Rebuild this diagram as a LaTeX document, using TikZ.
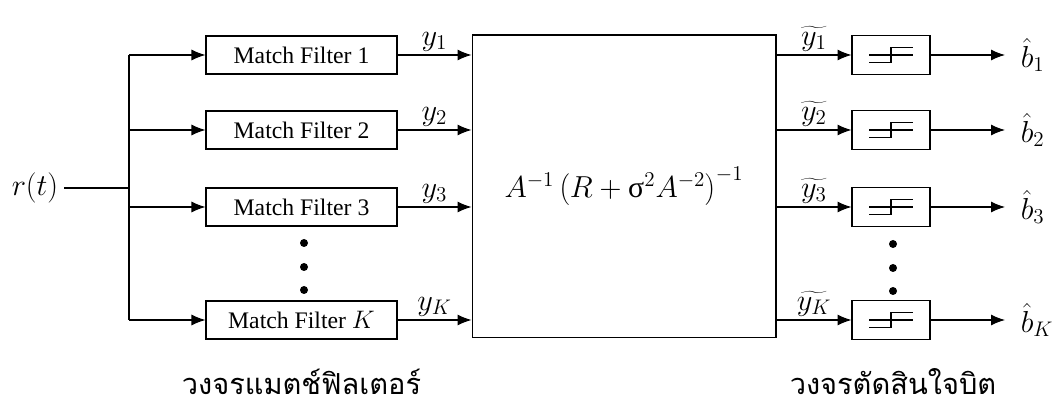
\documentclass[tikz,border=0pt]{standalone}
\usepackage{fontspec}
\setmainfont{Liberation Serif}
\newfontfamily\thaifont[Script=Thai]{Loma}
\usetikzlibrary{arrows.meta}
\begin{document}
\begin{tikzpicture}[x=0.02cm,y=-0.02cm]
	% Styles
	\tikzstyle{trait}=[line width=0.6pt]
	\tikzstyle{fleche}=[trait,-{Latex[length=2.8mm,width=2.2mm]}]
	\tikzstyle{filtre}=[draw,trait,minimum width=3.82cm,minimum height=0.76cm,inner sep=0pt,font=\fontsize{13.5}{16}\selectfont]
	\tikzstyle{decision}=[draw,trait,minimum width=1.56cm,minimum height=0.78cm,inner sep=0pt]
	\tikzstyle{matrice}=[draw,trait,minimum width=6.08cm,minimum height=6.06cm,inner sep=0pt,font=\fontsize{17}{21}\selectfont]
	\tikzstyle{etiquette}=[midway,above,inner sep=2pt,font=\fontsize{17}{20}\selectfont]
	\tikzstyle{sortie}=[anchor=west,inner sep=1pt,outer sep=0.28cm,font=\fontsize{17}{20}\selectfont]
	\tikzstyle{point}=[circle,fill,inner sep=0pt,minimum size=0.16cm]
	\tikzstyle{legende}=[font=\thaifont\fontsize{16.5}{20}\selectfont]
	% Dimensions
	\def\LigneA{55}
	\def\LigneB{130}
	\def\LigneC{207}
	\def\LigneK{320}
	\def\ColFiltre{301.5}
	\def\ColDecision{891}
	\def\ColSortie{1005}
	% Symbole du seuil
	\def\Seuil#1{%
		\draw[trait] ([xshift=-0.44cm]#1.center) -- ([xshift=0.44cm]#1.center);
		\draw[trait] ([xshift=-0.44cm,yshift=-0.15cm]#1.center) -| ([yshift=0.15cm]#1.center) -- ([xshift=0.44cm,yshift=0.15cm]#1.center);}
	\useasboundingbox (0,0) rectangle (1053,411);
	% Noeuds
	\node[font=\fontsize{19}{22}\selectfont] (r) at (35,188) {$r(t)$};
	\coordinate (J) at (129,188);
	\node[filtre] (MF1) at (\ColFiltre,\LigneA) {Match Filter 1};
	\node[filtre] (MF2) at (\ColFiltre,\LigneB) {Match Filter 2};
	\node[filtre] (MF3) at (\ColFiltre,\LigneC) {Match Filter 3};
	\node[filtre] (MFK) at (\ColFiltre,\LigneK) {Match Filter $K$};
	\node[matrice] (M) at (624,186.5) {$A^{-1}\left(R+\mbox{σ}^{2}A^{-2}\right)^{-1}$};
	\node[decision] (D1) at (\ColDecision,\LigneA) {};
	\node[decision] (D2) at (\ColDecision,\LigneB) {};
	\node[decision] (D3) at (\ColDecision,\LigneC) {};
	\node[decision] (DK) at (\ColDecision,\LigneK) {};
	\node[sortie] (b1) at (\ColSortie,\LigneA) {$\hat{b}_1$};
	\node[sortie] (b2) at (\ColSortie,\LigneB) {$\hat{b}_2$};
	\node[sortie] (b3) at (\ColSortie,\LigneC) {$\hat{b}_3$};
	\node[sortie] (bK) at (\ColSortie,\LigneK) {$\hat{b}_K$};
	\node[point] (p1) at (304,243) {};
	\node[point] (p2) at (304,267) {};
	\node[point] (p3) at (304,290) {};
	\node[point] (q1) at (893,244) {};
	\node[point] (q2) at (893,268) {};
	\node[point] (q3) at (893,291) {};
	\node[legende] (L1) at (\ColFiltre,382) {วงจรแมตช์ฟิลเตอร์};
	\node[legende] (L2) at (893,382) {วงจรตัดสินใจบิต};
	\Seuil{D1}
	\Seuil{D2}
	\Seuil{D3}
	\Seuil{DK}
	% Arcs
	\draw[trait] (r) -- (J);
	\draw[trait] (J |- MF1) -- (J |- MFK);
	\draw[fleche] (J |- MF1) -- (MF1);
	\draw[fleche] (J |- MF2) -- (MF2);
	\draw[fleche] (J |- MF3) -- (MF3);
	\draw[fleche] (J |- MFK) -- (MFK);
	\draw[fleche] (MF1) -- (MF1 -| M.west) node[etiquette] {$y_1$};
	\draw[fleche] (MF2) -- (MF2 -| M.west) node[etiquette] {$y_2$};
	\draw[fleche] (MF3) -- (MF3 -| M.west) node[etiquette] {$y_3$};
	\draw[fleche] (MFK) -- (MFK -| M.west) node[etiquette] {$y_K$};
	\draw[fleche] (M.east |- D1) -- (D1) node[etiquette] {$\widetilde{y_1}$};
	\draw[fleche] (M.east |- D2) -- (D2) node[etiquette] {$\widetilde{y_2}$};
	\draw[fleche] (M.east |- D3) -- (D3) node[etiquette] {$\widetilde{y_3}$};
	\draw[fleche] (M.east |- DK) -- (DK) node[etiquette] {$\widetilde{y_K}$};
	\draw[fleche] (D1) -- (b1);
	\draw[fleche] (D2) -- (b2);
	\draw[fleche] (D3) -- (b3);
	\draw[fleche] (DK) -- (bK);
\end{tikzpicture}
\end{document}
